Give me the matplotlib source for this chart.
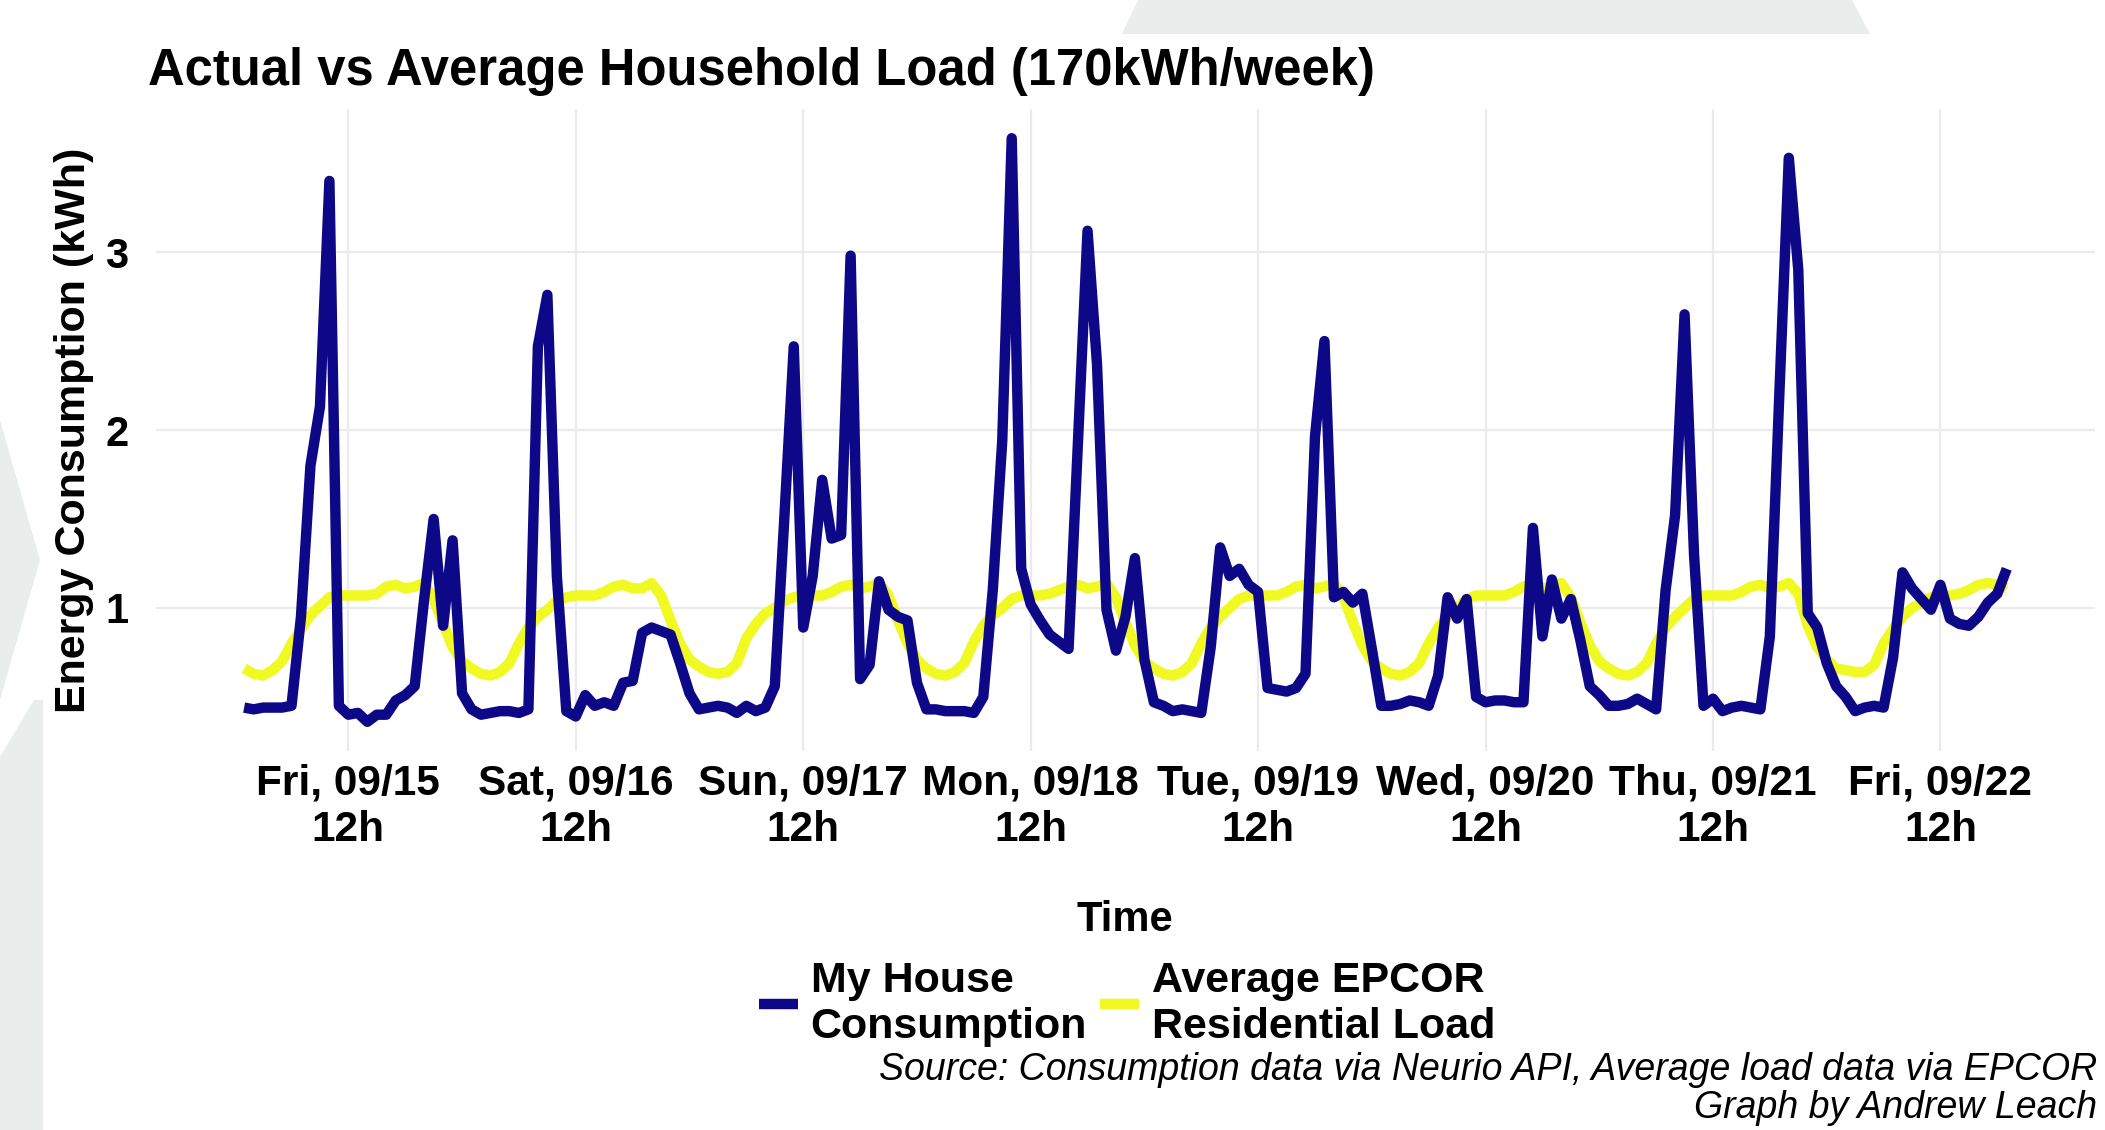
import matplotlib
matplotlib.use("Agg")
import matplotlib.pyplot as plt
from matplotlib.lines import Line2D
from matplotlib.patches import Polygon
import pandas as pd

plt.rcParams["font.family"] = ["Liberation Sans", "DejaVu Sans"]

# hourly data, Fri 09/15 01h -> Fri 09/22 19h
start = "2023-09-15 01:00"

# My House Consumption (kWh), one list per half day
house_fri15_am = [0.44, 0.43, 0.44, 0.44, 0.44, 0.45, 0.95, 1.80, 2.13, 3.40, 0.45]
house_fri15_pm = [0.40, 0.41, 0.36, 0.40, 0.40, 0.48, 0.51, 0.56, 1.05, 1.50, 0.90, 1.38]
house_sat_am = [0.52, 0.43, 0.40, 0.41, 0.42, 0.42, 0.41, 0.43, 2.47, 2.76, 1.18, 0.42]
house_sat_pm = [0.39, 0.51, 0.45, 0.47, 0.45, 0.58, 0.59, 0.86, 0.89, 0.87, 0.85, 0.69]
house_sun_am = [0.52, 0.43, 0.44, 0.45, 0.44, 0.41, 0.45, 0.42, 0.44, 0.56, 1.50, 2.47]
house_sun_pm = [0.89, 1.18, 1.72, 1.39, 1.41, 2.98, 0.60, 0.68, 1.15, 0.99, 0.95, 0.93]
house_mon_am = [0.58, 0.43, 0.43, 0.42, 0.42, 0.42, 0.41, 0.50, 1.10, 1.94, 3.64, 1.22]
house_mon_pm = [1.02, 0.93, 0.85, 0.81, 0.77, 1.95, 3.12, 2.37, 0.99, 0.76, 0.95, 1.28]
house_tue_am = [0.71, 0.47, 0.45, 0.42, 0.43, 0.42, 0.41, 0.78, 1.34, 1.18, 1.22, 1.13]
house_tue_pm = [1.09, 0.55, 0.54, 0.53, 0.55, 0.63, 1.96, 2.50, 1.06, 1.09, 1.03, 1.08]
house_wed_am = [0.77, 0.45, 0.45, 0.46, 0.48, 0.47, 0.45, 0.62, 1.06, 0.94, 1.05, 0.50]
house_wed_pm = [0.47, 0.48, 0.48, 0.47, 0.47, 1.45, 0.84, 1.16, 0.94, 1.05, 0.82, 0.56]
house_thu_am = [0.51, 0.45, 0.45, 0.46, 0.49, 0.46, 0.43, 1.10, 1.52, 2.65, 1.30, 0.45]
house_thu_pm = [0.49, 0.42, 0.44, 0.45, 0.44, 0.43, 0.84, 2.20, 3.53, 2.90, 0.97, 0.89]
house_fri22_am = [0.69, 0.56, 0.50, 0.42, 0.44, 0.45, 0.44, 0.72, 1.20, 1.11, 1.05, 0.99]
house_fri22_pm = [1.13, 0.94, 0.91, 0.90, 0.95, 1.03, 1.08, 1.22]

# Average EPCOR Residential Load (kWh), one list per day
epcor_fri15 = [0.66, 0.63, 0.62, 0.65, 0.70, 0.80, 0.88, 0.96, 1.01, 1.06, 1.07,
               1.07, 1.07, 1.07, 1.08, 1.12, 1.13, 1.11, 1.12, 1.14, 1.05, 0.91, 0.78]
epcor_sat = [0.70, 0.66, 0.63, 0.62, 0.64, 0.69, 0.80, 0.89, 0.95, 0.99, 1.04, 1.06,
             1.07, 1.07, 1.07, 1.09, 1.12, 1.13, 1.11, 1.11, 1.14, 1.07, 0.93, 0.80]
epcor_sun = [0.71, 0.67, 0.64, 0.63, 0.64, 0.69, 0.83, 0.91, 0.97, 1.00, 1.04, 1.06,
             1.07, 1.07, 1.07, 1.09, 1.12, 1.13, 1.11, 1.12, 1.14, 1.07, 0.93, 0.80]
epcor_mon = [0.71, 0.66, 0.63, 0.62, 0.64, 0.69, 0.81, 0.90, 0.96, 1.00, 1.05, 1.07,
             1.07, 1.07, 1.08, 1.10, 1.12, 1.13, 1.11, 1.12, 1.14, 1.06, 0.92, 0.79]
epcor_tue = [0.70, 0.66, 0.63, 0.62, 0.64, 0.69, 0.80, 0.89, 0.95, 1.00, 1.05, 1.07,
             1.07, 1.07, 1.07, 1.09, 1.12, 1.13, 1.11, 1.12, 1.14, 1.06, 0.92, 0.79]
epcor_wed = [0.70, 0.66, 0.63, 0.62, 0.64, 0.69, 0.80, 0.89, 0.95, 1.00, 1.05, 1.07,
             1.07, 1.07, 1.07, 1.09, 1.12, 1.13, 1.11, 1.12, 1.14, 1.06, 0.92, 0.79]
epcor_thu = [0.70, 0.66, 0.63, 0.62, 0.64, 0.69, 0.80, 0.89, 0.95, 1.00, 1.05, 1.07,
             1.07, 1.07, 1.07, 1.09, 1.12, 1.13, 1.11, 1.12, 1.14, 1.08, 0.90, 0.78]
epcor_fri22 = [0.71, 0.66, 0.65, 0.64, 0.64, 0.68, 0.80, 0.88, 0.95, 1.00, 1.03, 1.06,
               1.07, 1.07, 1.08, 1.10, 1.13, 1.14, 1.13, 1.11]

house = (house_fri15_am + house_fri15_pm + house_sat_am + house_sat_pm
         + house_sun_am + house_sun_pm + house_mon_am + house_mon_pm
         + house_tue_am + house_tue_pm + house_wed_am + house_wed_pm
         + house_thu_am + house_thu_pm + house_fri22_am + house_fri22_pm)
epcor = (epcor_fri15 + epcor_sat + epcor_sun + epcor_mon + epcor_tue
         + epcor_wed + epcor_thu + epcor_fri22)

times = pd.date_range(start, periods=len(house), freq="h")
ticks = pd.date_range("2023-09-15 12:00", periods=8, freq="D")
tick_labels = [t.strftime("%a, %m/%d\n%Hh") for t in ticks]

blue = "#0D0887"
yellow = "#F0F921"
grey_shape = "#E9EDEC"

fig = plt.figure(figsize=(21.05, 11.3), dpi=100)

# light grey background shapes
W, H = 2105, 1130
def fig_poly(pts):
    return Polygon([(x / W, 1 - y / H) for x, y in pts], closed=True,
                   transform=fig.transFigure, facecolor=grey_shape,
                   edgecolor="none", zorder=-10)

fig.patches.append(fig_poly([(1138, 0), (1852, 0), (1870, 34), (1122, 34)]))
fig.patches.append(fig_poly([(0, 420), (40, 560), (0, 700)]))
fig.patches.append(fig_poly([(34, 700), (43, 700), (43, 1130), (0, 1130), (0, 757)]))

ax = fig.add_axes([0.0741, 0.3354, 0.9211, 0.5681])
ax.set_facecolor("none")

ax.plot(times, epcor, color=yellow, linewidth=7.5, solid_joinstyle="round",
        solid_capstyle="butt", zorder=2)
ax.plot(times, house, color=blue, linewidth=7.5, solid_joinstyle="round",
        solid_capstyle="butt", zorder=3)

pad = pd.Timedelta(hours=9.3)
ax.set_xlim(times[0] - pad, times[-1] + pad)
ax.set_ylim(0.196, 3.804)

ax.set_xticks(ticks)
ax.set_xticklabels(tick_labels, fontsize=30.5, fontweight="bold", linespacing=1.2)
ax.set_yticks([1, 2, 3])
ax.set_yticklabels(["1", "2", "3"], fontsize=30, fontweight="bold")
ax.tick_params(axis="both", length=0)
ax.tick_params(axis="x", pad=9)
ax.tick_params(axis="y", pad=20)

ax.grid(True, color="#EBEBEB", linewidth=1.6)
ax.set_axisbelow(True)
for s in ax.spines.values():
    s.set_visible(False)

fig.text(148 / W, 1 - 85 / H, "Actual vs Average Household Load (170kWh/week)",
         fontsize=36.5, fontweight="bold", ha="left", va="baseline")
fig.text(74 / W, 1 - 430 / H, "Energy Consumption (kWh)", rotation=90,
         fontsize=31, fontweight="bold", ha="center", va="center")
fig.text(1125 / W, 1 - 920 / H, "Time", fontsize=30, fontweight="bold",
         ha="center", va="center")

handles = [Line2D([], [], color=blue, linewidth=7.5, solid_capstyle="butt"),
           Line2D([], [], color=yellow, linewidth=7.5, solid_capstyle="butt")]
leg = fig.legend(handles, ["My House\nConsumption", "Average EPCOR\nResidential Load"],
                 loc="center", bbox_to_anchor=(1127 / W, 1 - 1004 / H), ncol=2,
                 frameon=False, handlelength=0.9, handletextpad=0.3,
                 columnspacing=0.3, prop={"size": 31, "weight": "bold"})
for t in leg.get_texts():
    t.set_linespacing(1.18)

fig.text(2097 / W, 1 - 1089 / H,
         "Source: Consumption data via Neurio API, Average load data via EPCOR\nGraph by Andrew Leach",
         fontsize=27, style="italic", ha="right", va="center", linespacing=1.05)

fig.savefig("out.png", dpi=100, facecolor="white")
